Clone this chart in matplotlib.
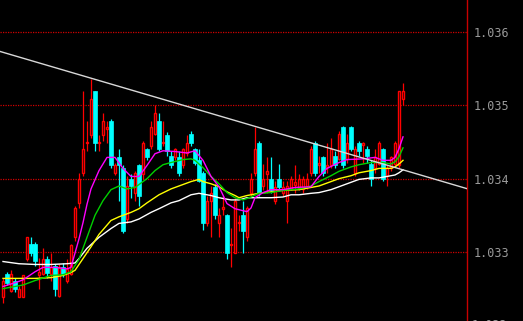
import matplotlib.pyplot as plt
import numpy as np

# candles, one per bar (oldest first)
opens = [1.03238, 1.03270, 1.03247, 1.03261, 1.03239, 1.03239, 1.03291, 1.03311, 1.03311, 1.03268,
         1.03270, 1.03291, 1.03270, 1.03281, 1.03240, 1.03280, 1.03261, 1.03270, 1.03320, 1.03367,
         1.03408, 1.03448, 1.03459, 1.03519, 1.03448, 1.03459, 1.03468, 1.03479, 1.03408, 1.03430,
         1.03414, 1.03345, 1.03400, 1.03380, 1.03419, 1.03407, 1.03440, 1.03445, 1.03461, 1.03479,
         1.03448, 1.03460, 1.03431, 1.03429, 1.03429, 1.03418, 1.03435, 1.03461, 1.03440, 1.03425,
         1.03408, 1.03339, 1.03370, 1.03388, 1.03339, 1.03359, 1.03350, 1.03309, 1.03299, 1.03339,
         1.03350, 1.03320, 1.03380, 1.03408, 1.03449, 1.03390, 1.03407, 1.03400, 1.03370, 1.03400,
         1.03380, 1.03370, 1.03386, 1.03392, 1.03386, 1.03386, 1.03390, 1.03408, 1.03449, 1.03419,
         1.03429, 1.03416, 1.03418, 1.03431, 1.03427, 1.03470, 1.03427, 1.03470, 1.03408, 1.03449,
         1.03446, 1.03441, 1.03420, 1.03414, 1.03420, 1.03440, 1.03404, 1.03415, 1.03420, 1.03418,
         1.03509]
highs = [1.03265, 1.03273, 1.03275, 1.03264, 1.03253, 1.03269, 1.03321, 1.03321, 1.03314, 1.03292,
         1.03305, 1.03294, 1.03299, 1.03284, 1.03283, 1.03285, 1.03291, 1.03311, 1.03363, 1.03408,
         1.03519, 1.03479, 1.03536, 1.03520, 1.03459, 1.03489, 1.03479, 1.03482, 1.03422, 1.03440,
         1.03418, 1.03404, 1.03407, 1.03411, 1.03420, 1.03452, 1.03442, 1.03479, 1.03500, 1.03489,
         1.03479, 1.03463, 1.03438, 1.03442, 1.03438, 1.03442, 1.03459, 1.03465, 1.03442, 1.03441,
         1.03411, 1.03377, 1.03390, 1.03393, 1.03360, 1.03377, 1.03352, 1.03333, 1.03373, 1.03350,
         1.03370, 1.03363, 1.03408, 1.03470, 1.03452, 1.03420, 1.03429, 1.03429, 1.03397, 1.03420,
         1.03397, 1.03397, 1.03404, 1.03418, 1.03407, 1.03404, 1.03408, 1.03445, 1.03452, 1.03431,
         1.03431, 1.03449, 1.03455, 1.03438, 1.03465, 1.03472, 1.03461, 1.03472, 1.03445, 1.03452,
         1.03450, 1.03445, 1.03425, 1.03440, 1.03452, 1.03442, 1.03418, 1.03431, 1.03452, 1.03520,
         1.03530]
lows = [1.03230, 1.03255, 1.03245, 1.03246, 1.03238, 1.03238, 1.03288, 1.03295, 1.03281, 1.03250,
        1.03268, 1.03264, 1.03261, 1.03240, 1.03239, 1.03266, 1.03258, 1.03268, 1.03315, 1.03360,
        1.03404, 1.03438, 1.03455, 1.03438, 1.03438, 1.03452, 1.03448, 1.03415, 1.03405, 1.03370,
        1.03326, 1.03340, 1.03374, 1.03370, 1.03363, 1.03400, 1.03425, 1.03441, 1.03459, 1.03438,
        1.03445, 1.03431, 1.03414, 1.03425, 1.03404, 1.03415, 1.03431, 1.03445, 1.03418, 1.03395,
        1.03330, 1.03336, 1.03320, 1.03345, 1.03320, 1.03350, 1.03291, 1.03279, 1.03298, 1.03329,
        1.03299, 1.03315, 1.03377, 1.03404, 1.03377, 1.03384, 1.03380, 1.03380, 1.03366, 1.03384,
        1.03377, 1.03339, 1.03384, 1.03381, 1.03384, 1.03381, 1.03386, 1.03404, 1.03404, 1.03408,
        1.03404, 1.03408, 1.03414, 1.03414, 1.03425, 1.03414, 1.03422, 1.03438, 1.03404, 1.03431,
        1.03422, 1.03422, 1.03390, 1.03408, 1.03418, 1.03397, 1.03390, 1.03411, 1.03416, 1.03415,
        1.03500]
closes = [1.03261, 1.03258, 1.03270, 1.03249, 1.03250, 1.03268, 1.03320, 1.03299, 1.03288, 1.03273,
          1.03291, 1.03272, 1.03280, 1.03250, 1.03280, 1.03270, 1.03277, 1.03310, 1.03360, 1.03400,
          1.03440, 1.03450, 1.03509, 1.03449, 1.03450, 1.03479, 1.03471, 1.03418, 1.03419, 1.03418,
          1.03329, 1.03390, 1.03390, 1.03408, 1.03377, 1.03448, 1.03429, 1.03470, 1.03489, 1.03441,
          1.03450, 1.03438, 1.03418, 1.03440, 1.03408, 1.03440, 1.03449, 1.03449, 1.03422, 1.03397,
          1.03339, 1.03370, 1.03380, 1.03350, 1.03350, 1.03362, 1.03299, 1.03311, 1.03370, 1.03341,
          1.03329, 1.03360, 1.03400, 1.03440, 1.03380, 1.03400, 1.03410, 1.03384, 1.03388, 1.03388,
          1.03388, 1.03390, 1.03400, 1.03395, 1.03400, 1.03400, 1.03400, 1.03441, 1.03408, 1.03422,
          1.03408, 1.03419, 1.03441, 1.03418, 1.03461, 1.03418, 1.03448, 1.03441, 1.03441, 1.03438,
          1.03449, 1.03431, 1.03400, 1.03429, 1.03449, 1.03400, 1.03414, 1.03429, 1.03449, 1.03519,
          1.03519]

# moving averages at these bar numbers
ma5_idx = [0, 3, 5, 8, 10, 13, 16, 17, 19, 20, 21, 22, 24, 26, 28, 30, 32, 34, 36, 38, 40, 43, 46, 48,
           50, 52, 54, 56, 58, 61, 62, 63, 65, 67, 70, 73, 77, 78, 79, 81, 84, 86, 90, 93, 95, 97, 98,
           99, 100]
ma5 = [1.03253, 1.03258, 1.03262, 1.03273, 1.03279, 1.03279, 1.03277, 1.03279, 1.03318, 1.03340,
       1.03365, 1.03386, 1.03411, 1.03429, 1.03429, 1.03414, 1.03403, 1.03403, 1.03418, 1.03434,
       1.03438, 1.03437, 1.03435, 1.03438, 1.03425, 1.03403, 1.03389, 1.03366, 1.03359, 1.03355,
       1.03360, 1.03374, 1.03381, 1.03385, 1.03385, 1.03388, 1.03389, 1.03396, 1.03403, 1.03414,
       1.03422, 1.03426, 1.03427, 1.03429, 1.03425, 1.03425, 1.03429, 1.03441, 1.03457]

ma10_idx = [0, 5, 8, 12, 15, 17, 19, 21, 23, 25, 27, 29, 31, 33, 34, 36, 38, 40, 42, 45, 47, 48, 50,
            52, 54, 56, 58, 60, 62, 64, 67, 70, 72, 74, 77, 79, 82, 84, 87, 89, 92, 95, 97, 98, 99, 100]
ma10 = [1.03250, 1.03255, 1.03261, 1.03268, 1.03269, 1.03273, 1.03290, 1.03320, 1.03350, 1.03370,
        1.03385, 1.03390, 1.03386, 1.03388, 1.03392, 1.03400, 1.03411, 1.03419, 1.03422, 1.03426,
        1.03427, 1.03425, 1.03415, 1.03403, 1.03393, 1.03381, 1.03374, 1.03371, 1.03375, 1.03380,
        1.03381, 1.03384, 1.03385, 1.03386, 1.03390, 1.03396, 1.03404, 1.03410, 1.03416, 1.03419,
        1.03422, 1.03422, 1.03420, 1.03423, 1.03430, 1.03442]

ma20_idx = [0, 8, 12, 15, 17, 18, 20, 22, 24, 27, 29, 32, 34, 36, 39, 42, 44, 47, 49, 50, 52, 54, 56,
            58, 59, 61, 64, 67, 70, 74, 77, 79, 82, 84, 87, 89, 92, 94, 97, 98, 99, 100]
ma20 = [1.03264, 1.03264, 1.03265, 1.03268, 1.03272, 1.03275, 1.03291, 1.03307, 1.03324, 1.03343,
        1.03348, 1.03354, 1.03359, 1.03367, 1.03378, 1.03386, 1.03390, 1.03396, 1.03399, 1.03396,
        1.03393, 1.03389, 1.03382, 1.03377, 1.03374, 1.03377, 1.03380, 1.03382, 1.03384, 1.03385,
        1.03388, 1.03390, 1.03396, 1.03400, 1.03404, 1.03408, 1.03411, 1.03414, 1.03414, 1.03416,
        1.03420, 1.03425]

ma60_idx = [0, 4, 8, 12, 16, 18, 19, 21, 24, 27, 29, 32, 34, 37, 39, 42, 44, 47, 49, 52, 54, 57, 59,
            61, 64, 67, 70, 72, 74, 77, 79, 82, 84, 87, 89, 92, 94, 97, 98, 99, 100]
ma60 = [1.03287, 1.03284, 1.03283, 1.03283, 1.03284, 1.03285, 1.03291, 1.03305, 1.03320, 1.03332,
        1.03339, 1.03341, 1.03345, 1.03354, 1.03359, 1.03367, 1.03370, 1.03378, 1.03380, 1.03377,
        1.03374, 1.03371, 1.03371, 1.03374, 1.03374, 1.03374, 1.03375, 1.03378, 1.03378, 1.03380,
        1.03381, 1.03385, 1.03389, 1.03395, 1.03399, 1.03401, 1.03401, 1.03404, 1.03405, 1.03408,
        1.03412]

# hand drawn resistance line, two anchor points (bar, price)
trend_idx = [22, 100]
trend_px = [1.03537, 1.03412]

levels = [1.033, 1.034, 1.035, 1.036]
level_labels = ['1.033', '1.034', '1.035', '1.036']

UP = '#ff0000'
DOWN = '#00ffff'
GRID = '#d00000'
AXIS = '#c80000'
TEXT = '#9a9a9a'

fig = plt.figure(figsize=(5.23, 3.21), dpi=100, facecolor='black')
ax = fig.add_axes([0, 0, 467 / 523, 1], facecolor='black')

o = np.array(opens)
h = np.array(highs)
l = np.array(lows)
c = np.array(closes)
x = np.arange(len(o))
up = c >= o

# price levels
for lvl in levels:
    ax.axhline(lvl, color=GRID, lw=0.9, linestyle=(0, (1, 1)), zorder=1)

# wicks first, hollow bodies cover them
ax.vlines(x[up], l[up], h[up], color=UP, lw=0.9, zorder=2)
ax.vlines(x[~up], l[~up], h[~up], color=DOWN, lw=0.9, zorder=2)

body_lo = np.minimum(o, c)
body_h = np.maximum(np.abs(c - o), 0.000012)
ax.bar(x[up], body_h[up], bottom=body_lo[up], width=0.62, facecolor='black',
       edgecolor=UP, linewidth=1.0, zorder=3)
ax.bar(x[~up], body_h[~up], bottom=body_lo[~up], width=0.8, color=DOWN,
       edgecolor=DOWN, linewidth=0.5, zorder=3)

# moving averages
ax.plot(ma60_idx, ma60, color='#ffffff', lw=1.0, zorder=4)
ax.plot(ma20_idx, ma20, color='#ffff00', lw=1.0, zorder=4)
ax.plot(ma10_idx, ma10, color='#00d000', lw=1.0, zorder=4)
ax.plot(ma5_idx, ma5, color='#ff00ff', lw=1.0, zorder=4)

ax.axline((trend_idx[0], trend_px[0]), (trend_idx[1], trend_px[1]), color='#d8d8d8', lw=1.0, zorder=5)

ax.set_xlim(-0.75, 116)
ax.set_ylim(1.032059, 1.036436)

ax.set_xticks([])
ax.set_yticks(levels)
ax.set_yticklabels(level_labels)
ax.yaxis.tick_right()
ax.tick_params(axis='y', length=0, pad=5, labelcolor=TEXT, labelsize=8.5)
for lab in ax.get_yticklabels():
    lab.set_family('DejaVu Sans Mono')

# next level just below the bottom edge, only its top shows
ax.text(1.0 + 5 / 467, 1.032, '1.032', transform=ax.get_yaxis_transform(), clip_on=False,
        color=TEXT, fontsize=8.5, family='DejaVu Sans Mono', va='center', ha='left')

for side in ['left', 'top', 'bottom']:
    ax.spines[side].set_visible(False)
ax.spines['right'].set_color(AXIS)
ax.spines['right'].set_linewidth(1.0)

fig.savefig('out.png', dpi=100, facecolor='black')
